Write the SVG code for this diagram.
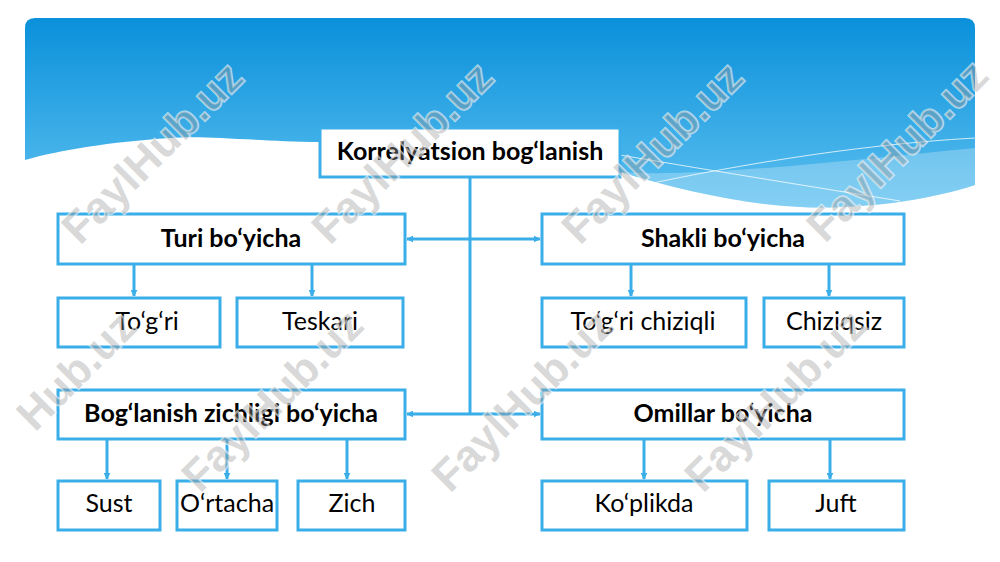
<svg xmlns="http://www.w3.org/2000/svg" width="1000" height="562" viewBox="0 0 1000 562">
  <defs>
    <linearGradient id="sky" x1="0" y1="0" x2="0" y2="1">
      <stop offset="0" stop-color="#0a90da"/>
      <stop offset="1" stop-color="#5cc0f0"/>
    </linearGradient>
    <marker id="ah" viewBox="0 0 10 10" refX="9" refY="5" markerWidth="7" markerHeight="7" orient="auto-start-reverse" markerUnits="userSpaceOnUse">
      <path d="M0,0 L10,5 L0,10 Z" fill="#3aaee8"/>
    </marker>
    <style>
      .box { fill: #ffffff; stroke: #3aaee8; stroke-width: 3; }
      .b { font-family: "Lato", "Liberation Sans", sans-serif; font-weight: bold; font-size: 25px; fill: #000; text-anchor: middle; dominant-baseline: central; }
      .r { font-family: "Lato", "Liberation Sans", sans-serif; font-size: 25px; fill: #000; text-anchor: middle; dominant-baseline: central; }
      .ln { stroke: #3aaee8; stroke-width: 3; fill: none; }
      .wm { font-family: "Liberation Sans", sans-serif; font-weight: bold; font-size: 44px; fill: #9a9a9a; fill-opacity: 0.4; stroke: #ffffff; stroke-opacity: 0.6; stroke-width: 2; paint-order: stroke; text-anchor: middle; dominant-baseline: central; }
    </style>
  </defs>

  <rect width="1000" height="562" fill="#ffffff"/>

  <!-- background banner -->
  <g id="background">
    <path d="M25,28 Q25,18 35,18 H965 Q975,18 975,28 V185 C930,200 860,210 800,207 C740,204 680,190 620,172 C520,150 420,140 320,142 C250,141 205,135 170,138 C110,142 60,150 25,160 Z" fill="url(#sky)"/>
    <path d="M620,172 C700,178 850,160 975,148 V185 C930,200 860,210 800,207 C740,204 680,190 620,172 Z" fill="#ffffff" fill-opacity="0.25"/>
    <path d="M620,155 C720,172 820,188 900,201" stroke="#ffffff" stroke-opacity="0.75" stroke-width="1" fill="none"/>
    <path d="M620,190 C720,168 850,145 975,138" stroke="#ffffff" stroke-opacity="0.75" stroke-width="1" fill="none"/>
  </g>

  <!-- connectors -->
  <g id="connectors">
    <line class="ln" x1="470" y1="177" x2="470" y2="415"/>
    <line class="ln" x1="407" y1="239" x2="540" y2="239" marker-start="url(#ah)" marker-end="url(#ah)"/>
    <line class="ln" x1="407" y1="414" x2="540" y2="414" marker-start="url(#ah)" marker-end="url(#ah)"/>
    <line class="ln" x1="134" y1="264" x2="134" y2="296" marker-end="url(#ah)"/>
    <line class="ln" x1="312" y1="264" x2="312" y2="296" marker-end="url(#ah)"/>
    <line class="ln" x1="631" y1="264" x2="631" y2="296" marker-end="url(#ah)"/>
    <line class="ln" x1="829" y1="264" x2="829" y2="296" marker-end="url(#ah)"/>
    <line class="ln" x1="107" y1="439" x2="107" y2="479" marker-end="url(#ah)"/>
    <line class="ln" x1="227" y1="439" x2="227" y2="479" marker-end="url(#ah)"/>
    <line class="ln" x1="347" y1="439" x2="347" y2="479" marker-end="url(#ah)"/>
    <line class="ln" x1="644" y1="439" x2="644" y2="479" marker-end="url(#ah)"/>
    <line class="ln" x1="830" y1="439" x2="830" y2="479" marker-end="url(#ah)"/>
  </g>

  <g id="root"><rect class="box" x="320" y="128" width="300" height="49"/><text class="b" x="470" y="150">Korrelyatsion bog‘lanish</text></g>
  <g id="turi"><rect class="box" x="58" y="214" width="347" height="50"/><text class="b" x="231" y="237">Turi bo‘yicha</text></g>
  <g id="shakli"><rect class="box" x="542" y="214" width="362" height="50"/><text class="b" x="723" y="237">Shakli bo‘yicha</text></g>
  <g id="togri"><rect class="box" x="58" y="298" width="162" height="49"/><text class="r" x="147" y="320">To‘g‘ri</text></g>
  <g id="teskari"><rect class="box" x="237" y="298" width="166" height="49"/><text class="r" x="320" y="320">Teskari</text></g>
  <g id="togri-chiziqli"><rect class="box" x="542" y="298" width="204" height="49"/><text class="r" x="643" y="320">To‘g‘ri chiziqli</text></g>
  <g id="chiziqsiz"><rect class="box" x="764" y="298" width="140" height="49"/><text class="r" x="834" y="320">Chiziqsiz</text></g>
  <g id="zichlik"><rect class="box" x="58" y="390" width="347" height="49"/><text class="b" x="231" y="412">Bog‘lanish zichligi bo‘yicha</text></g>
  <g id="omillar"><rect class="box" x="542" y="390" width="362" height="49"/><text class="b" x="723" y="412">Omillar bo‘yicha</text></g>
  <g id="sust"><rect class="box" x="58" y="481" width="102" height="49"/><text class="r" x="109" y="502">Sust</text></g>
  <g id="ortacha"><rect class="box" x="177" y="481" width="100" height="49"/><text class="r" x="227" y="502">O‘rtacha</text></g>
  <g id="zich"><rect class="box" x="298" y="481" width="107" height="49"/><text class="r" x="352" y="502">Zich</text></g>
  <g id="koplikda"><rect class="box" x="542" y="481" width="205" height="49"/><text class="r" x="644" y="502">Ko‘plikda</text></g>
  <g id="juft"><rect class="box" x="769" y="481" width="135" height="49"/><text class="r" x="836" y="502">Juft</text></g>

  <!-- watermarks -->
  <g id="watermarks">
    <text class="wm" transform="translate(152,152) rotate(-45)">FaylHub.uz</text>
    <text class="wm" transform="translate(402,152) rotate(-45)">FaylHub.uz</text>
    <text class="wm" transform="translate(652,152) rotate(-45)">FaylHub.uz</text>
    <text class="wm" transform="translate(897,150) rotate(-45)">FaylHub.uz</text>
    <text class="wm" transform="translate(76,370) rotate(-45)">Hub.uz</text>
    <text class="wm" transform="translate(272,400) rotate(-45)">FaylHub.uz</text>
    <text class="wm" transform="translate(522,400) rotate(-45)">FaylHub.uz</text>
    <text class="wm" transform="translate(775,400) rotate(-45)">FaylHub.uz</text>
  </g>
</svg>
